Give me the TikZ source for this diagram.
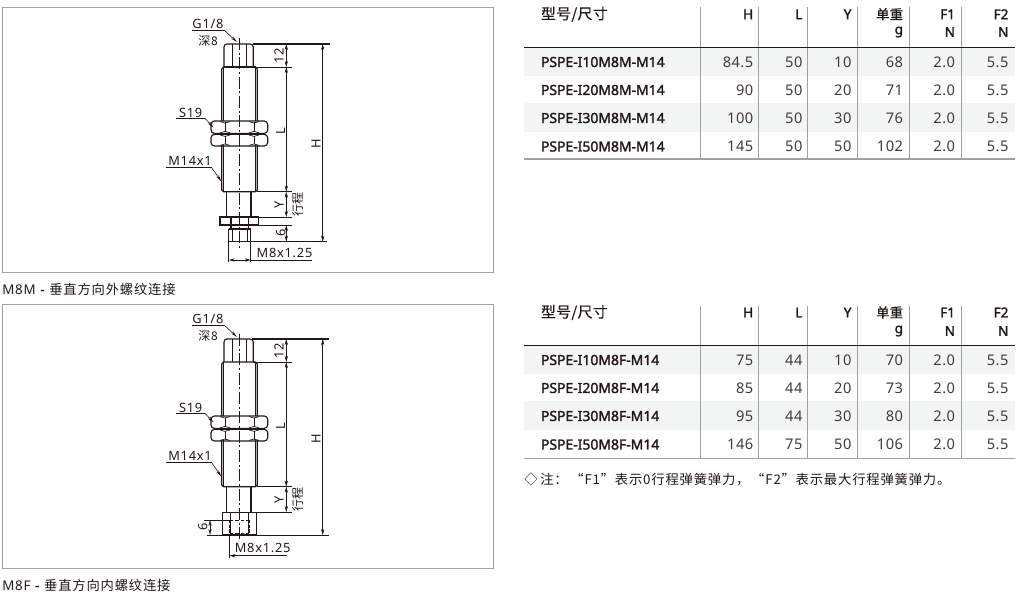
\documentclass[tikz,border=0pt]{standalone}
\usepackage{fontspec}
\setmainfont{Noto Sans}
\newfontfamily\cjk[LetterSpace=6]{Noto Sans CJK SC}
\newfontfamily\cjkb[FakeBold=0.3,LetterSpace=2]{Noto Sans CJK SC}
\newfontfamily\dimf[LetterSpace=6]{Noto Sans}
\newfontfamily\numf[LetterSpace=3]{Noto Sans}
\newfontfamily\boldf[FakeBold=1.8]{Noto Sans}
\usetikzlibrary{arrows.meta}
\definecolor{ink}{HTML}{231815}
\definecolor{rulegray}{HTML}{9FA0A0}
\definecolor{band}{HTML}{F3F5F4}
\tikzset{
  part/.style={draw=ink,line width=0.85pt},
  partthin/.style={draw=ink,line width=0.5pt},
  heavy/.style={draw=ink,line width=1.2pt},
  axisline/.style={draw=ink,line width=0.45pt,dash pattern=on 9pt off 2pt on 1.5pt off 2pt},
  dimline/.style={draw=ink,line width=0.35pt},
  dimarrow/.style={draw=ink,line width=0.35pt,{Stealth[length=4.5pt,width=2.4pt]}-{Stealth[length=4.5pt,width=2.4pt]}},
  leader/.style={draw=ink,line width=0.45pt,-{Stealth[length=5pt,width=2.2pt]}},
  dimtext/.style={font=\dimf\fontsize{9.6}{10}\selectfont,text=ink,inner sep=0pt},
  cjktext/.style={font=\cjk\fontsize{9}{10}\selectfont,text=ink,inner sep=0pt},
  captext/.style={font=\cjk\fontsize{10}{11}\selectfont,text=ink,inner sep=0pt,anchor=west},
  frame/.style={draw=rulegray,line width=0.75pt},
  hdr/.style={font=\boldf\fontsize{10.2}{11}\selectfont,text=ink,inner sep=0pt,anchor=east},
  hdrcjk/.style={font=\cjkb\fontsize{10}{11}\selectfont,text=ink,inner sep=0pt},
  hdrcjkw/.style={font=\cjkb\fontsize{11.2}{12}\selectfont,text=ink,inner sep=0pt},
  num/.style={font=\numf\fontsize{11}{12}\selectfont,text=ink!85,inner sep=0pt,anchor=east},
  model/.style={font=\boldf\fontsize{10.45}{11}\selectfont,text=ink,inner sep=0pt,anchor=west},
  vrule/.style={draw=rulegray,line width=0.75pt},
  hrule/.style={draw=ink,line width=0.85pt},
  brule/.style={draw=rulegray,line width=0.85pt},
}
\newcommand\onenut[2]{% top y, bottom y
  \draw[part,rounded corners=2.6pt] (211,#1) rectangle (267.7,#2);
  \draw[partthin] (225,#1+1.5) -- (225,#2-1.5) (254,#1+1.5) -- (254,#2-1.5);
  \draw[partthin] (220,#1+0.6) -- (225,#1+2) -- (230,#1+0.6) (249,#1+0.6) -- (254,#1+2) -- (259,#1+0.6);
  \draw[partthin] (220,#2-0.6) -- (225,#2-2) -- (230,#2-0.6) (249,#2-0.6) -- (254,#2-2) -- (259,#2-0.6);
}
\newcommand\upperpart{%
  % neck
  \draw[part] (224,67) -- (224,47) to[out=90,in=180] (227,44) -- (250,44) to[out=0,in=90] (253.3,47) -- (253.3,67);
  \draw[partthin] (232.7,44) -- (232.7,67) (246,44) -- (246,67);
  % body
  \draw[part] (221.7,121) -- (221.7,69) -- (223.5,67) -- (255.5,67) -- (257.3,69) -- (257.3,121);
  \draw[part] (221.7,145) -- (221.7,190) -- (223.5,191.7) -- (255.5,191.7) -- (257.3,190) -- (257.3,145);
  \draw[partthin] (223.6,67) -- (223.6,121) (255.6,67) -- (255.6,121) (223.6,145) -- (223.6,191.7) (255.6,145) -- (255.6,191.7);
  % nuts
  \onenut{121}{133.4}
  \onenut{134.4}{146}
  % shaft
  \draw[part] (226.3,191.7) -- (226.3,217) (251,191.7) -- (251,217);
  % dimensions
  \draw[dimline] (253.3,67) -- (291.7,67) (257.3,191.7) -- (291.7,191.7) (251,217) -- (291.7,217);
  \coordinate (r1) at (286.3,44); \coordinate (r2) at (286.3,67);
  \coordinate (r3) at (286.3,191.7); \coordinate (r4) at (286.3,217);
  \draw[dimarrow] (r1) -- (r2);
  \draw[dimarrow] (r2) -- (r3);
  \draw[dimarrow] (r3) -- (r4);
  \node[dimtext,rotate=90] (n12) at (279,55.7) {12};
  \node[dimtext,rotate=90] (nL) at (280.5,131) {L};
  \node[dimtext,rotate=90] (nY) at (279,204.5) {Y};
  \node[cjktext,rotate=90] (nS) at (297.5,204.5) {行程};
  \node[dimtext,rotate=90] (nH) at (316,143.5) {H};
  % labels
  \node[dimtext] (g) at (208,23.5) {G1/8};
  \node[cjktext] (d) at (208,40.6) {深8};
  \coordinate (g1) at (192,30); \coordinate (g2) at (224,30); \coordinate (g3) at (237,42);
  \draw[dimline] (g1) -- (g2);
  \draw[leader] (g2) -- (g3);
  \node[dimtext] (s) at (190.7,112.5) {S19};
  \coordinate (s1) at (176,118.3); \coordinate (s2) at (205,118.3); \coordinate (s3) at (213.5,127.5);
  \draw[draw=ink,line width=0.8pt] (s1) -- (s2);
  \draw[leader] (s2) -- (s3);
  \node[dimtext] (m) at (190,161.3) {M14x1};
  \coordinate (m1) at (165.7,167.7); \coordinate (m2) at (211.7,167.7); \coordinate (m3) at (221.3,181.5);
  \draw[dimline] (m1) -- (m2);
  \draw[leader] (m2) -- (m3);
}
\newcommand\trow[9]{%
  \node[model] at (540.7,#1) {#2};
  \node[num] at (753.5,#1) {#3};
  \node[num] at (802.7,#1) {#4};
  \node[num] at (851.7,#1) {#5};
  \node[num] at (903.3,#1) {#6};
  \node[num] at (955.3,#1) {#7};
  \node[num] at (1008.7,#1) {#8};
}
\newcommand\thead[2]{%
  \node[hdrcjkw,anchor=west] at (540.7,#1) {型号/尺寸};
  \node[hdr] at (753.5,#1) {H};
  \node[hdr] at (802.7,#1) {L};
  \node[hdr] at (851.7,#1) {Y};
  \node[hdrcjk,anchor=east] at (903.3,#1) {单重};
  \node[hdr] at (903.3,#2) {g};
  \node[hdr] at (955.3,#1) {F1};
  \node[hdr] at (955.3,#2) {N};
  \node[hdr] at (1008.7,#1) {F2};
  \node[hdr] at (1008.7,#2) {N};
}
\begin{document}
\begin{tikzpicture}[x=0.75pt,y=-0.75pt]
\useasboundingbox (0,0) rectangle (1020,598);
% frames
\draw[frame] (2.5,7.7) rectangle (493,272.5);
\draw[frame] (2.5,304.5) rectangle (493,568.5);
\node[captext] (c1) at (2,289) {{\dimf M8M}\hspace{3.5pt}{\boldf -}\hspace{3.5pt}垂直方向外螺纹连接};
\node[captext] (c2) at (2,585) {{\dimf M8F}\hspace{3.5pt}{\boldf -}\hspace{3.5pt}垂直方向内螺纹连接};

% --- top drawing
\upperpart
\draw[axisline] (239.3,38) -- (239.3,250);
\draw[heavy] (224,67) -- (256,67);
\draw[part] (220,217) rectangle (258.7,225);
\draw[heavy] (230,225.4) -- (250,225.4);
\draw[part] (231,218) -- (231,229) (248.5,218) -- (248.5,229);
\draw[part] (228.7,229) -- (250.7,229) -- (250.7,241.7) (228.7,229) -- (228.7,241.7);
\draw[partthin] (232,229) -- (232,241) (247.5,229) -- (247.5,241);
\draw[dimline] (258.7,225) -- (291.7,225);
\coordinate (a1) at (253.3,44); \coordinate (a2) at (330,44);
\coordinate (b1) at (228.7,241.7); \coordinate (b2) at (326.7,241.7);
\draw[heavy] (a1) -- (a2);
\draw[heavy] (b1) -- (b2);
\coordinate (h1) at (322.7,44); \coordinate (h2) at (322.7,241.7);
\draw[dimarrow] (h1) -- (h2);
\coordinate (e1) at (286.3,225); \coordinate (e2) at (286.3,241.7);
\draw[dimarrow] (e1) -- (e2);
\node[dimtext,rotate=90] (n6) at (280.7,233) {6};
\draw[dimline] (228.7,241.7) -- (228.7,261.7) (250.7,241.7) -- (250.7,261.7);
\coordinate (w1) at (228.7,260); \coordinate (w2) at (250.7,260); \coordinate (w3) at (312,260);
\draw[dimarrow] (w1) -- (w2);
\draw[dimline] (w2) -- (w3);
\node[dimtext] (mm) at (284.5,253) {M8x1.25};

% --- bottom drawing
\begin{scope}[shift={(0,295)}]
\upperpart
\end{scope}
\draw[axisline] (239.3,334) -- (239.3,541);
\draw[part] (222.3,512.3) rectangle (256.7,535);
\draw[partthin] (230.6,512.3) -- (230.6,535) (248.8,512.3) -- (248.8,535);
\draw[heavy,line width=0.9pt,dash pattern=on 2.5pt off 1pt] (229.6,520) -- (229.6,534);
\draw[heavy,line width=0.9pt,dash pattern=on 2.5pt off 1pt] (249.6,520) -- (249.6,534);
\draw[partthin,dash pattern=on 2.5pt off 1.5pt] (230,520) -- (249.3,520) (230,533.5) -- (249.3,533.5);
\draw[dimline] (204,520) -- (230,520);
\draw[dimline] (206.7,535) -- (329,535);
\coordinate (c1) at (252,339); \coordinate (c2) at (329,339);
\draw[draw=ink,line width=0.9pt] (c1) -- (c2);
\coordinate (i1) at (322.7,339); \coordinate (i2) at (322.7,535);
\draw[dimarrow] (i1) -- (i2);
\coordinate (j1) at (210,520); \coordinate (j2) at (210,535);
\draw[dimarrow] (j1) -- (j2);
\node[dimtext,rotate=90] (n6b) at (202.7,527) {6};
\draw[dimline] (229.3,535) -- (229.3,558);
\coordinate (k1) at (229.5,555.7); \coordinate (k2) at (287.3,555.7);
\draw[draw=ink,line width=0.35pt,{Stealth[length=4.5pt,width=2.4pt]}-] (k1) -- (k2);
\node[dimtext] (mmb) at (262.7,548) {M8x1.25};

% --- tables
\fill[band] (524,47.5) rectangle (1015,76);
\fill[band] (524,103) rectangle (1015,131.7);
\foreach \x in {700.3,758.7,807.3,857.3,909.3,961.3} \draw[vrule] (\x,7) -- (\x,159);
\draw[hrule] (524,47.5) -- (1015,47.5);
\draw[brule] (524,159) -- (1015,159);
\thead{14.3}{32}
\trow{62}{PSPE-I10M8M-M14}{84.5}{50}{10}{68}{2.0}{5.5}{}
\trow{90}{PSPE-I20M8M-M14}{90}{50}{20}{71}{2.0}{5.5}{}
\trow{118}{PSPE-I30M8M-M14}{100}{50}{30}{76}{2.0}{5.5}{}
\trow{146.5}{PSPE-I50M8M-M14}{145}{50}{50}{102}{2.0}{5.5}{}

\fill[band] (524,345.7) rectangle (1015,374);
\fill[band] (524,401) rectangle (1015,430);
\foreach \x in {700.3,758.7,807.3,857.3,909.3,961.3} \draw[vrule] (\x,306) -- (\x,458.3);
\draw[hrule] (524,345.7) -- (1015,345.7);
\draw[brule] (524,458.3) -- (1015,458.3);
\thead{312.5}{331}
\trow{360}{PSPE-I10M8F-M14}{75}{44}{10}{70}{2.0}{5.5}{}
\trow{388}{PSPE-I20M8F-M14}{85}{44}{20}{73}{2.0}{5.5}{}
\trow{416}{PSPE-I30M8F-M14}{95}{44}{30}{80}{2.0}{5.5}{}
\trow{444.5}{PSPE-I50M8F-M14}{146}{75}{50}{106}{2.0}{5.5}{}
\node[captext] (note) at (524,479.3) {◇\hspace{2pt}注：\hspace{2pt}“F1”\hspace{0.5pt}表示0行程弹簧弹力，\hspace{1.3pt}“F2”\hspace{0.5pt}表示最大行程弹簧弹力。};
\end{tikzpicture}
\end{document}
